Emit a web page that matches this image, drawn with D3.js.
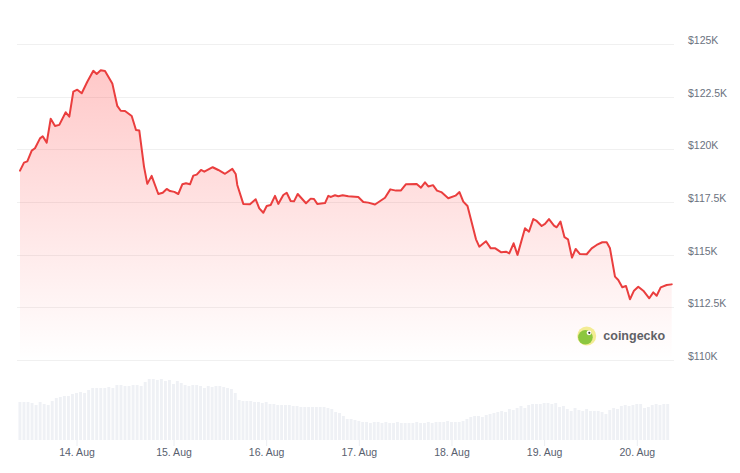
<!DOCTYPE html>
<html><head><meta charset="utf-8">
<script src="https://cdn.jsdelivr.net/npm/d3@7"></script>
<style>html,body{margin:0;padding:0;background:#fff;}svg{display:block;}</style>
</head><body>
<svg id="chart" width="740" height="473"></svg>
<script>
// Hours since 13 Aug 2025 00:00 UTC, and BTC price in thousand USD
const priceHours = [10.02,11.01,11.83,12.92,13.73,14.97,15.64,16.63,17.62,18.68,19.74,21.33,22.22,23.21,24.2,25.29,26.67,28.16,29.0,29.99,31.05,32.86,34.09,34.94,36.0,37.66,38.72,39.54,40.7,41.52,42.59,44.24,45.33,46.32,47.13,
48.21,49.24,50.28,51.24,52.27,53.13,54.01,55.12,55.98,58.15,59.6,61.34,63.23,64.11,64.52,66.08,67.81,69.29,70.22,71.26,72.14,73.17,74.29,75.14,76.44,77.32,78.35,79.21,80.17,82.32,83.54,84.39,85.24,87.24,88.09,88.79,89.83,90.68,91.82,93.27,95.86,97.16,98.45,100.19,102.78,104.15,105.63,106.92,108.17,110.99,112.1,113.14,114.0,115.21,116.25,117.36,119.17,121.04,122.07,123.06,124.15,126.35,127.2,128.94,130.18,131.35,132.9,134.12,134.97,136.09,137.1,139.04,140.07,141.19,142.07,143.36,144.22,145.25,146.55,147.25,148.23,149.27,150.18,151.21,152.17,153.28,155.02,156.31,157.61,159.06,160.2,161.05,162.35,163.2,164.24,165.2,166.23,167.27,168.38,169.68,171.23,172.27,173.15,174.19,175.74,177.04];
const priceValues = [118.99,119.37,119.43,119.94,120.05,120.52,120.62,120.32,121.45,121.11,121.16,121.76,121.55,122.74,122.83,122.66,123.21,123.73,123.58,123.75,123.72,123.13,122.06,121.83,121.82,121.58,120.92,120.89,119.18,118.36,118.74,117.88,117.94,118.12,118.02,
117.98,117.88,118.34,118.39,118.34,118.75,118.80,119.02,118.94,119.15,119.02,118.84,119.07,118.83,118.31,117.41,117.39,117.63,117.20,116.99,117.31,117.36,117.79,117.41,117.83,117.94,117.55,117.53,117.88,117.44,117.66,117.64,117.41,117.45,117.79,117.74,117.82,117.77,117.82,117.77,117.74,117.50,117.47,117.38,117.70,118.10,118.04,118.05,118.34,118.36,118.18,118.43,118.24,118.30,118.04,117.97,117.68,117.80,117.97,117.52,117.31,115.73,115.38,115.64,115.30,115.30,115.11,115.14,115.06,115.54,114.99,116.25,116.09,116.69,116.60,116.36,116.46,116.69,116.38,116.30,116.57,115.83,115.73,114.86,115.27,115.03,115.02,115.30,115.46,115.59,115.59,115.30,113.96,113.80,113.45,113.51,112.88,113.29,113.48,113.29,112.93,113.21,113.05,113.45,113.56,113.59];

// Hourly volume (relative units), first bar at hour 10 of 13 Aug
const volumeStartHour = 10;
const volumes = [38,38,38,37,35,38,36,35,39,42,43,44,44,46,47,48,47,50,52,52,52,52,53,52,55,55,54,54,55,55,54,58,61,61,60,61,59,60,
56,59,57,55,54,55,55,54,52,54,53,54,54,53,52,51,47,40,39,39,39,38,38,37,38,36,36,35,35,35,35,34,34,33,33,33,33,33,33,33,32,31,28,27,24,21,21,20,19,
18,18,17,18,18,17,18,17,17,18,17,17,17,17,18,17,17,18,17,18,18,18,19,18,18,18,19,21,23,24,24,23,25,26,27,28,29,28,31,30,32,34,32,35,36,36,36,37,37,36,37,33,34,31,29,32,30,29,31,29,29,29,28,26,30,32,31,34,35,34,35,36,36,32,33,35,36,35,36,36];

const yTicks = [110, 112.5, 115, 117.5, 120, 122.5, 125];
const dayTicks = [14,15,16,17,18,19,20];

const svg = d3.select("#chart");
const FONT = "'Liberation Sans', Arial, sans-serif";
const base = Date.UTC(2025, 7, 13);
const hourToDate = h => new Date(base + h * 3600e3);

const x = d3.scaleUtc()
  .domain([new Date(Date.UTC(2025,7,14)), new Date(Date.UTC(2025,7,15)), new Date(Date.UTC(2025,7,20))])
  .range([76.5, 173.5, 636.8]);
const y = d3.scaleLinear().domain([110, 125]).range([360, 44]);
const yVol = d3.scaleLinear().domain([0, 80]).range([440, 360]);

const data = priceHours.map((h, i) => ({t: hourToDate(h), v: priceValues[i]}));
const vols = volumes.map((v, i) => ({t: hourToDate(volumeStartHour + i), v}));

// volume bars
svg.append("g").selectAll("rect").data(vols).join("rect")
  .attr("x", d => x(d.t) - 1.45)
  .attr("width", 2.9)
  .attr("y", d => yVol(d.v))
  .attr("height", d => yVol(0) - yVol(d.v))
  .attr("fill", "#eff1f5");

// gridlines
svg.append("g").selectAll("line").data(yTicks).join("line")
  .attr("x1", 17).attr("x2", 674)
  .attr("y1", d => Math.round(y(d)) + 0.5).attr("y2", d => Math.round(y(d)) + 0.5)
  .attr("stroke", "#f0f0f0").attr("stroke-width", 1);

// gradient
const defs = svg.append("defs");
const grad = defs.append("linearGradient").attr("id", "fillGrad")
  .attr("gradientUnits", "userSpaceOnUse")
  .attr("x1", 0).attr("x2", 0).attr("y1", y(125)).attr("y2", y(110));
grad.append("stop").attr("offset", 0).attr("stop-color", "#ff3a3a").attr("stop-opacity", 0.3);
grad.append("stop").attr("offset", 1).attr("stop-color", "#ff3a3a").attr("stop-opacity", 0);

const area = d3.area().x(d => x(d.t)).y0(y(110)).y1(d => y(d.v));
const line = d3.line().x(d => x(d.t)).y(d => y(d.v));

svg.append("path").datum(data).attr("d", area).attr("fill", "url(#fillGrad)");
svg.append("path").datum(data).attr("d", line)
  .attr("fill", "none").attr("stroke", "#ea3e3e").attr("stroke-width", 2)
  .attr("stroke-linejoin", "round").attr("stroke-linecap", "round");

// y axis labels
const yAxis = d3.axisRight(y).tickValues(yTicks).tickSize(0).tickPadding(0)
  .tickFormat(d => "$" + d + "K");
const gy = svg.append("g").attr("transform", "translate(688,0)").call(yAxis);
gy.select(".domain").remove();
gy.selectAll("text").attr("dy", "-0.05em").attr("fill", "#6b7280")
  .style("font-family", FONT).style("font-size", "10.5px");

// x axis
const xAxis = d3.axisBottom(x)
  .tickValues(dayTicks.map(d => new Date(Date.UTC(2025, 7, d))))
  .tickSize(6).tickPadding(3)
  .tickFormat(d3.utcFormat("%-d. %b"));
const gx = svg.append("g").attr("transform", "translate(0,440)").call(xAxis);
gx.select(".domain").remove();
gx.selectAll(".tick line").attr("stroke", "#eceef2");
gx.selectAll("text").attr("fill", "#58606e")
  .style("font-family", FONT).style("font-size", "10.5px");

// coingecko watermark
const logo = svg.append("g").attr("transform", "translate(586.7,336)");
logo.append("circle").attr("r", 9.5).attr("fill", "#f3ec94");
logo.append("circle").attr("cx", -1.3).attr("cy", 1.3).attr("r", 7.3).attr("fill", "#8cc63f");
logo.append("circle").attr("cx", 2.3).attr("cy", -3.2).attr("r", 2.4).attr("fill", "#ffffff");
logo.append("circle").attr("cx", 2.6).attr("cy", -3.2).attr("r", 1.1).attr("fill", "#3a3a3a");
svg.append("text").attr("x", 603.3).attr("y", 340)
  .text("coingecko")
  .attr("fill", "#5f6166")
  .style("font-family", FONT).style("font-weight", "bold")
  .style("font-size", "12.5px");
</script>
</body></html>
